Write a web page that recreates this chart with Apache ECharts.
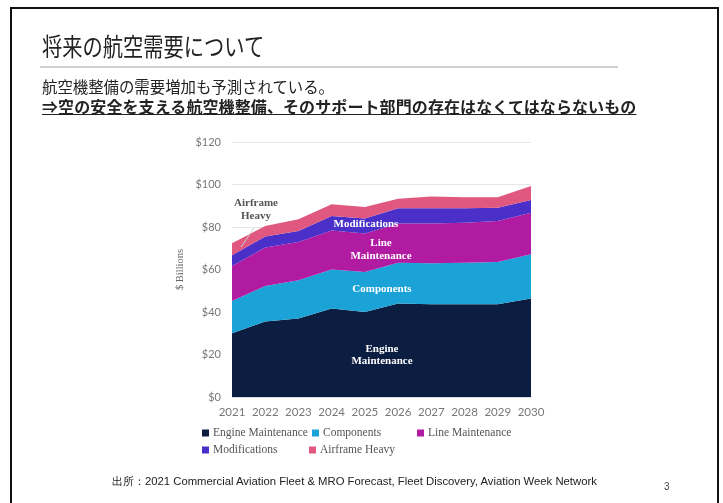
<!DOCTYPE html>
<html>
<head>
<meta charset="utf-8">
<script src="https://cdn.jsdelivr.net/npm/echarts@6/dist/echarts.min.js"></script>
<style>
  html, body { margin: 0; padding: 0; background: #fff; }
  body { width: 723px; height: 503px; position: relative; overflow: hidden; font-family: "Noto Sans CJK JP", "Noto Sans", sans-serif; }
  #frame { position: absolute; left: 10px; top: 7px; width: 709px; height: 520px; border: 2px solid #111; border-bottom: none; box-sizing: border-box; }
  #chart { position: absolute; left: 0; top: 0; width: 723px; height: 503px; }
  .t { position: absolute; white-space: nowrap; color: #222; }
  #title { left: 42px; top: 30px; font-size: 25px; line-height: 30px; transform: scaleX(0.81); transform-origin: left center; color: #222; }
  #rule { position: absolute; left: 40px; top: 66px; width: 578px; height: 2px; background: #cfcfcf; }
  #sub1 { left: 42px; top: 77px; font-size: 15.4px; line-height: 18px; }
  #sub2 { left: 42px; top: 96px; font-size: 16px; line-height: 20px; font-weight: bold; text-decoration: underline; letter-spacing: 0.1px; }
  #src { left: 112px; top: 474px; font-size: 11.3px; line-height: 14px; font-family: "Liberation Sans", sans-serif; color: #222; }
  #pg { left: 664px; top: 481px; font-size: 10px; line-height: 12px; font-family: "Liberation Sans", sans-serif; color: #444; }
</style>
</head>
<body>
<div id="frame"></div>
<div id="chart"></div>
<div class="t" id="title">将来の航空需要について</div>
<div id="rule"></div>
<div class="t" id="sub1">航空機整備の需要増加も予測されている。</div>
<div class="t" id="sub2">⇒空の安全を支える航空機整備、そのサポート部門の存在はなくてはならないもの</div>
<div class="t" id="src">出所：2021 Commercial Aviation Fleet &amp; MRO Forecast, Fleet Discovery, Aviation Week Network</div>
<div class="t" id="pg">3</div>
<script>
const years = ['2021','2022','2023','2024','2025','2026','2027','2028','2029','2030'];
const engineMaintenance = [30.0, 35.5, 37.0, 41.6, 40.0, 44.0, 43.6, 43.6, 43.6, 46.4];
const components        = [15.2, 16.7, 17.9, 18.4, 18.8, 19.2, 19.3, 19.6, 19.9, 20.8];
const lineMaintenance   = [16.4, 18.1, 18.1, 18.4, 18.2, 18.5, 18.8, 18.8, 19.3, 19.5];
const modifications     = [5.1, 5.2, 5.1, 6.8, 7.0, 7.1, 7.1, 6.8, 6.3, 6.0];
const airframeHeavy     = [5.6, 5.0, 5.5, 5.5, 5.4, 4.5, 5.5, 5.2, 4.9, 6.6];
const seriesNames = ['Engine Maintenance', 'Components', 'Line Maintenance', 'Modifications', 'Airframe Heavy'];
const yTicks = { min: 0, max: 120, interval: 20 };

const colors = ['#0b1d40', '#1ba3d8', '#b01ba2', '#4a30c8', '#e0587f'];
const dataSets = [engineMaintenance, components, lineMaintenance, modifications, airframeHeavy];

const chart = echarts.init(document.getElementById('chart'), null, { renderer: 'canvas' });

const legendPos = [[202, 427], [312, 427], [417, 427], [202, 444], [309, 444]];
const legends = seriesNames.map((n, i) => ({
  data: [n], left: legendPos[i][0], top: legendPos[i][1], padding: 0,
  icon: 'rect', itemWidth: 7, itemHeight: 7, itemGap: 4, selectedMode: false,
  textStyle: { fontFamily: 'Liberation Serif', fontSize: 11.5, color: '#555', padding: [0, 0, 0, -1] }
}));

const labelStyle = { fontFamily: 'Liberation Serif', fontWeight: 'bold', fontSize: 11, fill: '#fff', textAlign: 'center', textVerticalAlign: 'middle' };
function lbl(x, y, text, extra) {
  return { type: 'text', x: x, y: y, z: 100, style: Object.assign({ text: text }, labelStyle, extra || {}) };
}

chart.setOption({
  animation: false,
  color: colors,
  grid: { left: 232, right: 192, top: 142, bottom: 106 },
  legend: legends,
  xAxis: {
    type: 'category', data: years, boundaryGap: false,
    axisLine: { show: true, lineStyle: { color: '#dddddd' } },
    axisTick: { show: false },
    axisLabel: { interval: 0, color: '#777', fontFamily: 'Lato', fontSize: 11.5, margin: 9 }
  },
  yAxis: {
    type: 'value', min: yTicks.min, max: yTicks.max, interval: yTicks.interval,
    name: '$ Billions', nameLocation: 'middle', nameGap: 46, nameRotate: 90,
    nameTextStyle: { color: '#666', fontFamily: 'Liberation Serif', fontSize: 10.5 },
    axisLine: { show: false }, axisTick: { show: false },
    axisLabel: { color: '#777', fontFamily: 'Lato', fontSize: 11, margin: 11, formatter: '${value}' },
    splitLine: { lineStyle: { color: '#e6e6e6', width: 1 } }
  },
  series: seriesNames.map((n, i) => ({
    name: n, type: 'line', stack: 'total', data: dataSets[i],
    symbol: 'none', lineStyle: { width: 0 }, areaStyle: { color: colors[i], opacity: 1 },
    itemStyle: { color: colors[i] }
  })),
  graphic: [
    lbl(366, 224, 'Modifications'),
    lbl(381, 243, 'Line'),
    lbl(381, 256, 'Maintenance'),
    lbl(382, 289, 'Components'),
    lbl(382, 349, 'Engine'),
    lbl(382, 361, 'Maintenance'),
    lbl(256, 203, 'Airframe', { fill: '#555' }),
    lbl(256, 216, 'Heavy', { fill: '#555' }),
    { type: 'line', z: 100, shape: { x1: 254, y1: 228, x2: 241, y2: 247 }, style: { stroke: '#cccccc', lineWidth: 1 } }
  ]
});
</script>
</body>
</html>
